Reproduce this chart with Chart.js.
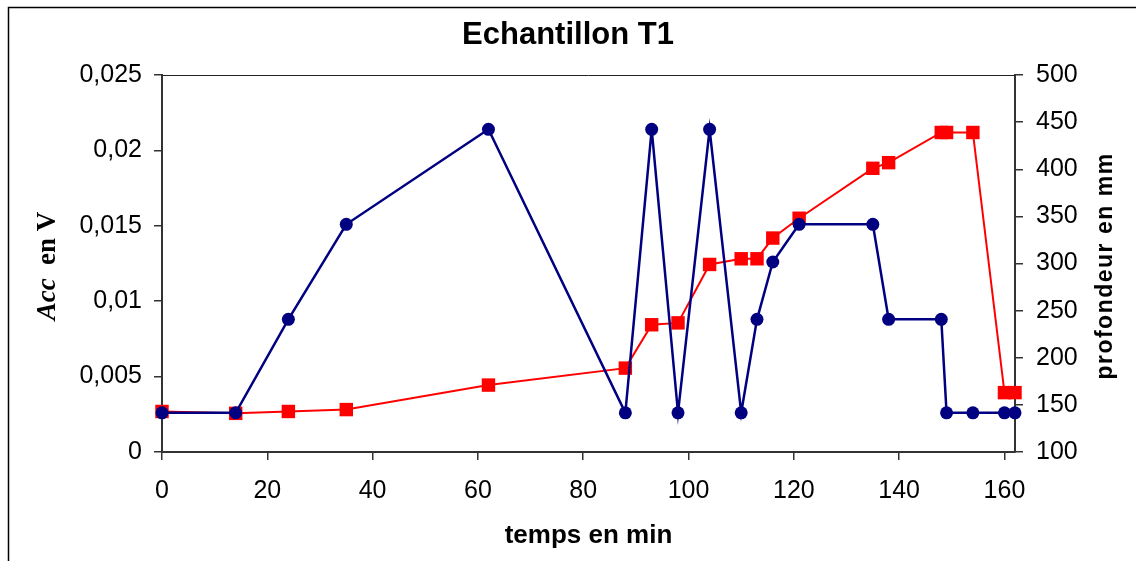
<!DOCTYPE html>
<html lang="fr">
<head>
<meta charset="utf-8">
<title>Echantillon T1</title>
<script src="https://cdn.jsdelivr.net/npm/chart.js@4.4.1/dist/chart.umd.min.js"></script>
<style>
  html, body { margin: 0; padding: 0; background: #fff; overflow: hidden; }
  #wrap { position: relative; width: 1136px; height: 561px; }
</style>
</head>
<body>
<div id="wrap"><canvas id="t1Chart"></canvas></div>
<script>
// temps des mesures (min)
const temps = [0, 14, 24, 35, 62, 88, 93, 98, 104, 110, 113, 116, 121, 135, 138, 148, 149, 154, 160, 162];
// Acc en V (axe de gauche)
const acc = [0.0026, 0.0026, 0.0088, 0.0151, 0.0214, 0.0026, 0.0214, 0.0026, 0.0214, 0.0026,
             0.0088, 0.0126, 0.0151, 0.0151, 0.0088, 0.0088, 0.0026, 0.0026, 0.0026, 0.0026];
// profondeur en mm (axe de droite)
const profondeur = [143, 141, 143, 145, 171, 189, 235, 237, 299, 305,
                    305, 327, 348, 401, 407, 439, 439, 439, 163, 163];

// graduations
const tempsTicks = [0, 20, 40, 60, 80, 100, 120, 140, 160];
const accTicks = [0, 0.005, 0.01, 0.015, 0.02, 0.025];
const profondeurTicks = [100, 150, 200, 250, 300, 350, 400, 450, 500];

const FONT = "'Liberation Sans', Arial, sans-serif";
const SERIF = "'Liberation Serif', 'Times New Roman', serif";
Chart.defaults.font.family = FONT;
Chart.defaults.color = "#000";

const toPoints = (ys) => temps.map((t, i) => ({ x: t, y: ys[i] }));
const setTicks = (values) => (scale) => {
  scale.ticks = values.map((v) => ({ value: v }));
};

// cadre, bord haut de la zone de tracé et titres des axes verticaux
const decorPlugin = {
  id: "decor",
  beforeDraw(chart) {
    const ctx = chart.ctx;
    ctx.save();
    ctx.fillStyle = "#fff";
    ctx.fillRect(0, 0, chart.width, chart.height);
    ctx.strokeStyle = "#000";
    ctx.lineWidth = 1.5;
    ctx.strokeRect(8.5, 7.5, 1400, 800);
    ctx.restore();
  },
  afterDraw(chart) {
    const { ctx, chartArea } = chart;
    ctx.save();
    ctx.strokeStyle = "#222";
    ctx.lineWidth = 1;
    ctx.beginPath();
    ctx.moveTo(chartArea.left, chartArea.top + 0.5);
    ctx.lineTo(chartArea.right, chartArea.top + 0.5);
    ctx.stroke();

    // "Acc en V" : Acc en italique
    ctx.fillStyle = "#000";
    ctx.textBaseline = "alphabetic";
    ctx.textAlign = "left";
    ctx.translate(55, 266);
    ctx.rotate(-Math.PI / 2);
    ctx.font = "italic bold 27px " + SERIF;
    const w1 = ctx.measureText("Acc").width;
    ctx.font = "bold 27px " + SERIF;
    const w2 = ctx.measureText("  en V").width;
    const x0 = -(w1 + w2) / 2;
    ctx.font = "italic bold 27px " + SERIF;
    ctx.fillText("Acc", x0, 0);
    ctx.font = "bold 27px " + SERIF;
    ctx.fillText("  en V", x0 + w1, 0);
    ctx.restore();

    ctx.save();
    ctx.fillStyle = "#000";
    ctx.font = "bold 23px " + FONT;
    ctx.letterSpacing = "1.5px";
    ctx.textAlign = "center";
    ctx.textBaseline = "alphabetic";
    ctx.translate(1112, 266);
    ctx.rotate(-Math.PI / 2);
    ctx.fillText("profondeur en mm", 0, 0);
    ctx.restore();
  },
};

new Chart(document.getElementById("t1Chart"), {
  type: "line",
  data: {
    datasets: [
      {
        label: "Acc en V",
        data: toPoints(acc),
        yAxisID: "yAcc",
        borderColor: "#000080",
        backgroundColor: "#000080",
        borderWidth: 2.5,
        pointStyle: "circle",
        pointRadius: 6.5,
        pointBorderWidth: 0,
        tension: 0,
        clip: false,
      },
      {
        label: "profondeur en mm",
        data: toPoints(profondeur),
        yAxisID: "yProf",
        borderColor: "#ff0000",
        backgroundColor: "#ff0000",
        borderWidth: 2,
        pointStyle: "rect",
        pointRadius: 9.5,
        pointBorderWidth: 0,
        tension: 0,
        clip: false,
      },
    ],
  },
  options: {
    responsive: true,
    maintainAspectRatio: false,
    animation: false,
    events: [],
    layout: { padding: 0 },
    plugins: {
      legend: { display: false },
      tooltip: { enabled: false },
      title: {
        display: true,
        text: "Echantillon T1",
        color: "#000",
        font: { size: 31, weight: "bold" },
        padding: { top: 17, bottom: 20.8 },
      },
    },
    scales: {
      x: {
        type: "linear",
        position: "bottom",
        min: 0,
        max: 162,
        afterBuildTicks: setTicks(tempsTicks),
        afterFit: (s) => { s.height = 109; },
        ticks: { font: { size: 25 }, padding: 16, maxRotation: 0, autoSkip: false },
        grid: { drawOnChartArea: false, drawTicks: true, tickLength: 8, color: "#333", lineWidth: 1.5 },
        border: { color: "#333", width: 2 },
        title: {
          display: true,
          text: "temps en min",
          color: "#000",
          font: { size: 26, weight: "bold" },
          padding: { top: 0, bottom: 10 },
        },
      },
      yAcc: {
        type: "linear",
        position: "left",
        min: 0,
        max: 0.025,
        afterBuildTicks: setTicks(accTicks),
        afterFit: (s) => { s.width = 162; },
        ticks: {
          font: { size: 25 },
          padding: 12,
          callback: (v) => String(v).replace(".", ","),
        },
        grid: { drawOnChartArea: false, drawTicks: true, tickLength: 8, color: "#333", lineWidth: 1.5 },
        border: { color: "#333", width: 2 },
      },
      yProf: {
        type: "linear",
        position: "right",
        min: 100,
        max: 500,
        afterBuildTicks: setTicks(profondeurTicks),
        afterFit: (s) => { s.width = 121; },
        ticks: { font: { size: 25 }, padding: 13 },
        grid: { drawOnChartArea: false, drawTicks: true, tickLength: 8, color: "#333", lineWidth: 1.5 },
        border: { color: "#333", width: 2 },
      },
    },
  },
  plugins: [decorPlugin],
});
</script>
</body>
</html>
